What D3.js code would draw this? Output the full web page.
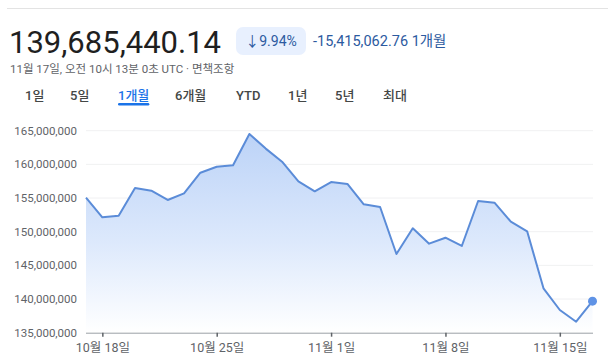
<!DOCTYPE html>
<html lang="ko">
<head>
  <meta charset="UTF-8">
  <title>1개월 차트</title>
  <script src="https://d3js.org/d3.v7.min.js"></script>
  <style>
    html, body { margin: 0; padding: 0; background: #fff; }
    body { font-family: Roboto, "Noto Sans CJK KR", sans-serif; width: 608px; height: 355px; overflow: hidden; }
    svg { display: block; }
  </style>
</head>
<body>
  <div id="chart"></div>

  <script>
    // 일별 종가 (10월 17일 ~ 11월 17일), 단위: 백만
    const startDay = new Date(2024, 9, 17);
    const values = [
      155.05, 152.14, 152.38, 156.49, 156.09, 154.71, 155.70, 158.76,
      159.65, 159.86, 164.51, 162.34, 160.40, 157.46, 156.00, 157.38,
      157.09, 154.07, 153.67, 146.69, 150.50, 148.22, 149.11, 147.88,
      154.56, 154.31, 151.49, 150.06, 141.59, 138.37, 136.63, 139.685
    ];
    const yTicks = [135, 140, 145, 150, 155, 160, 165];
    const xTickDays = [new Date(2024, 9, 18), new Date(2024, 9, 25), new Date(2024, 10, 1), new Date(2024, 10, 8), new Date(2024, 10, 15)];
    const tabs = ["1일", "5일", "1개월", "6개월", "YTD", "1년", "5년", "최대"];
    const selectedTab = "1개월";

    const price = "139,685,440.14";
    const changePct = "↓9.94%";
    const changeAbs = "-15,415,062.76 1개월";
    const stamp = "11월 17일, 오전 10시 13분 0초 UTC · 면책조항";

    const data = values.map((v, i) => ({ date: d3.timeDay.offset(startDay, i), value: v * 1e6 }));

    const W = 608, H = 355;
    const svg = d3.select("#chart").append("svg").attr("width", W).attr("height", H);

    // 상단 구분선
    svg.append("line").attr("x1", 7).attr("x2", W).attr("y1", 8.5).attr("y2", 8.5)
       .attr("stroke", "#e3e3e3").attr("stroke-width", 1);

    // 헤더
    svg.append("text").attr("x", 9).attr("y", 53).attr("font-size", 31)
       .attr("fill", "#1f1f1f").text(price);

    svg.append("rect").attr("x", 236).attr("y", 27).attr("width", 70).attr("height", 28)
       .attr("rx", 7).attr("fill", "#e8f0fe");
    svg.append("text").attr("x", 271).attr("y", 46).attr("text-anchor", "middle")
       .attr("font-size", 14).attr("fill", "#2c5aa0").text(changePct);
    svg.append("text").attr("x", 313).attr("y", 46).attr("font-size", 14.5)
       .attr("fill", "#2c5aa0").text(changeAbs);

    svg.append("text").attr("x", 10).attr("y", 73).attr("font-size", 11.5)
       .attr("fill", "#5f6368").text(stamp);

    // 기간 탭
    const tabX = [25, 70, 118, 175, 236, 288, 335, 383];
    tabs.forEach((t, i) => {
      const sel = t === selectedTab;
      const txt = svg.append("text").attr("x", tabX[i]).attr("y", 100).attr("font-size", 13)
        .attr("font-weight", 500).attr("fill", sel ? "#1a73e8" : "#444746").text(t);
      if (sel) {
        const w = txt.node().getComputedTextLength();
        svg.append("rect").attr("x", tabX[i]).attr("y", 103).attr("width", w).attr("height", 2.5)
           .attr("rx", 1.2).attr("fill", "#1a73e8");
      }
    });

    // 차트
    const x = d3.scaleTime().domain([startDay, data[data.length - 1].date]).range([86, 592.5]);
    const y = d3.scaleLinear().domain([135e6, 165e6]).range([332.7, 130.7]);

    const defs = svg.append("defs");
    const grad = defs.append("linearGradient").attr("id", "fillGrad")
      .attr("gradientUnits", "userSpaceOnUse")
      .attr("x1", 0).attr("x2", 0)
      .attr("y1", y(d3.max(data, d => d.value))).attr("y2", y(135e6));
    grad.append("stop").attr("offset", "0%").attr("stop-color", "#bcd3f7");
    grad.append("stop").attr("offset", "55%").attr("stop-color", "#dde9fc");
    grad.append("stop").attr("offset", "100%").attr("stop-color", "#ffffff");

    // 그리드
    svg.append("g").selectAll("line").data(yTicks.slice(1)).enter().append("line")
      .attr("x1", 86).attr("x2", 593)
      .attr("y1", d => y(d * 1e6)).attr("y2", d => y(d * 1e6))
      .attr("stroke", "#f0f1f2").attr("stroke-width", 1);

    const area = d3.area().x(d => x(d.date)).y0(y(135e6)).y1(d => y(d.value));
    svg.append("path").datum(data).attr("d", area).attr("fill", "url(#fillGrad)");

    const line = d3.line().x(d => x(d.date)).y(d => y(d.value));
    svg.append("path").datum(data).attr("d", line).attr("fill", "none")
      .attr("stroke", "#5b8cd8").attr("stroke-width", 2).attr("stroke-linejoin", "round");

    const last = data[data.length - 1];
    svg.append("circle").attr("cx", x(last.date)).attr("cy", y(last.value)).attr("r", 4.5)
      .attr("fill", "#5f93e6");

    // Y축 라벨
    const fmt = d3.format(",");
    svg.append("g").selectAll("text").data(yTicks).enter().append("text")
      .attr("x", 77).attr("y", d => y(d * 1e6)).attr("dy", "0.35em")
      .attr("text-anchor", "end").attr("font-size", 11.5).attr("fill", "#5f6368")
      .text(d => fmt(d * 1e6));

    // X축
    const xAxis = d3.axisBottom(x).tickValues(xTickDays).tickSize(4).tickPadding(6)
      .tickFormat(d => `${d.getMonth() + 1}월 ${d.getDate()}일`);
    const gx = svg.append("g").attr("transform", `translate(0,${y(135e6)})`).call(xAxis);
    gx.select(".domain").attr("d", `M86,0.5H593`).attr("stroke", "#9aa0a6");
    gx.selectAll(".tick line").attr("stroke", "#5f6368").attr("stroke-width", 1.5);
    gx.selectAll(".tick text").attr("font-size", 12.5).attr("fill", "#5f6368")
      .attr("font-family", 'Roboto, "Noto Sans CJK KR", sans-serif');
  </script>
</body>
</html>
